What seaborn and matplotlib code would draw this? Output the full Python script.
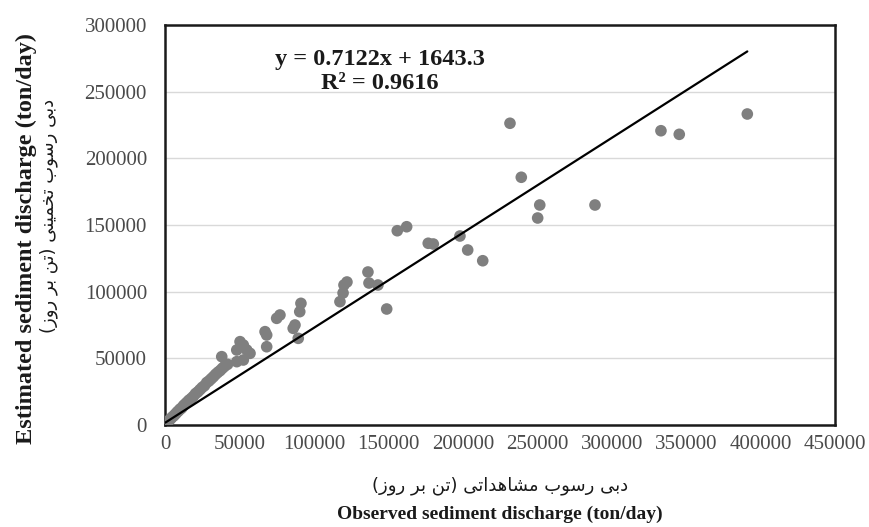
import matplotlib
matplotlib.use("Agg")
import numpy as np
import pandas as pd
import seaborn as sns
import matplotlib.pyplot as plt

# --- Dane ---
observed = [
    200, 500, 1000, 1500, 2000, 3000, 4000, 5000, 6000, 7000, 8000, 9000,
    10000, 11000, 12000, 13000, 14500, 16000, 17500, 19000, 20500, 22000,
    23500, 25000, 26500, 28000, 29500, 31000, 32500, 34000, 35500, 37000,
    38100, 38500, 40000, 42000,
    48200, 48200, 50400, 52600, 52600, 54900, 57100, 67200, 68300, 68300,
    75000, 77200, 86100, 87300, 89500, 91300, 90500,
    117500, 119600, 120200, 122200, 136300, 137000, 143000, 148900,
    156000, 162300, 176800, 180200, 198100, 203300, 213400,
    231700, 239300, 250300, 251700, 288800, 333100, 345400, 391100,
]
estimated = [
    300, 900, 1500, 2200, 2600, 3800, 4900, 6100, 7000, 8200, 9500, 10500,
    11800, 12500, 13900, 15200, 16800, 18500, 19800, 21400, 23500, 24800,
    26500, 28200, 29500, 31800, 33000, 34600, 36200, 38000, 39500, 40800,
    51250, 42500, 44000, 45500,
    47500, 56250, 62500, 48750, 60000, 56250, 53750, 70000, 67500, 58700,
    80000, 82500, 72500, 75000, 65000, 91250, 85000,
    92500, 99000, 105000, 107250, 114750, 106500, 105000, 87000,
    145700, 148700, 136300, 135750, 141750, 131250, 123200,
    226300, 185800, 155250, 165000, 165000, 220700, 218000, 233250,
]
slope = 0.7122
intercept = 1643.3
r2 = 0.9616

x_ticks = [0, 50000, 100000, 150000, 200000, 250000, 300000, 350000, 400000, 450000]
y_ticks = [0, 50000, 100000, 150000, 200000, 250000, 300000]

x_label_en = "Observed sediment discharge (ton/day)"
y_label_en = "Estimated sediment discharge (ton/day)"
x_label_fa = "دبی رسوب مشاهداتی (تن بر روز)"
y_label_fa = "دبی رسوب تخمینی (تن بر روز)"

# --- Prosty reshaper dla tekstu perskiego (formy prezentacyjne + RTL) ---
FORMS = {
    'ا': ('\uFE8D', '\uFE8E'), 'د': ('\uFEA9', '\uFEAA'), 'ر': ('\uFEAD', '\uFEAE'),
    'ز': ('\uFEAF', '\uFEB0'), 'و': ('\uFEED', '\uFEEE'),
    'ب': ('\uFE8F', '\uFE90', '\uFE91', '\uFE92'), 'ت': ('\uFE95', '\uFE96', '\uFE97', '\uFE98'),
    'خ': ('\uFEA5', '\uFEA6', '\uFEA7', '\uFEA8'), 'س': ('\uFEB1', '\uFEB2', '\uFEB3', '\uFEB4'),
    'ش': ('\uFEB5', '\uFEB6', '\uFEB7', '\uFEB8'), 'م': ('\uFEE1', '\uFEE2', '\uFEE3', '\uFEE4'),
    'ن': ('\uFEE5', '\uFEE6', '\uFEE7', '\uFEE8'), 'ه': ('\uFEE9', '\uFEEA', '\uFEEB', '\uFEEC'),
    'ی': ('\uFBFC', '\uFBFD', '\uFBFE', '\uFBFF'),
}

def shape_fa(text):
    out = []
    for i, ch in enumerate(text):
        f = FORMS.get(ch)
        if f is None:
            out.append(ch)
            continue
        prev = text[i - 1] if i > 0 else ''
        nxt = text[i + 1] if i + 1 < len(text) else ''
        jp = prev in FORMS and len(FORMS[prev]) == 4
        jn = len(f) == 4 and nxt in FORMS
        if jp and jn:
            out.append(f[3])
        elif jp:
            out.append(f[1])
        elif jn:
            out.append(f[2])
        else:
            out.append(f[0])
    vis = ''.join(reversed(out))
    return vis.translate(str.maketrans('()', ')('))

# --- Ustawienia ---
sns.set_theme(style="white")
plt.rcParams['font.family'] = ['Liberation Serif', 'DejaVu Sans']

df = pd.DataFrame({"observed": observed, "estimated": estimated})

fig = plt.figure(figsize=(8.69, 5.27), dpi=100)
ax = fig.add_axes([165 / 869, 1 - 425 / 527, 670 / 869, 400 / 527])

sns.scatterplot(data=df, x="observed", y="estimated", ax=ax, color="#7f7f7f",
                s=70, edgecolor="none", zorder=3, legend=False)

# linia trendu (Excel: od min do max x)
xl = np.array([min(observed), max(observed)])
ax.plot(xl, slope * xl + intercept, color="black", lw=1.6, zorder=4)

ax.set_xlim(0, 450000)
ax.set_ylim(0, 300000)
ax.set_xticks(x_ticks)
ax.set_xticklabels([str(t) for t in x_ticks])
ax.set_yticks(y_ticks)
ax.set_yticklabels([str(t) for t in y_ticks])
ax.tick_params(axis="both", length=0, labelsize=15, labelcolor="#4a4a4a")
ax.tick_params(axis="x", pad=7)
ax.tick_params(axis="y", pad=13)
ax.yaxis.grid(True, color="#d9d9d9", lw=1)
ax.xaxis.grid(False)
ax.set_axisbelow(True)
for sp in ax.spines.values():
    sp.set_visible(True)
    sp.set_color("#1a1a1a")
    sp.set_linewidth(1.8)
ax.set_xlabel("")
ax.set_ylabel("")

ax.text(144400, 265100, f"y = {slope}x + {intercept}\nR² = {r2}", ha="center", va="center",
        fontsize=17.5, fontweight="bold", color="#1a1a1a", linespacing=1.15)

# etykiety osi
fig.text(500 / 869, 1 - 486 / 527, shape_fa(x_label_fa), ha="center", va="center",
         fontsize=13, family="DejaVu Sans", color="#1a1a1a")
fig.text(500 / 869, 1 - 514 / 527, x_label_en, ha="center", va="center",
         fontsize=14, fontweight="bold", color="#1a1a1a")
fig.text(26 / 869, 1 - 238 / 527, y_label_en, ha="center", va="center", rotation=90,
         fontsize=17.5, fontweight="bold", color="#1a1a1a")
fig.text(49 / 869, 1 - 216 / 527, shape_fa(y_label_fa), ha="center", va="center", rotation=90,
         fontsize=13, family="DejaVu Sans", color="#1a1a1a")

fig.savefig("out.png", dpi=100)
